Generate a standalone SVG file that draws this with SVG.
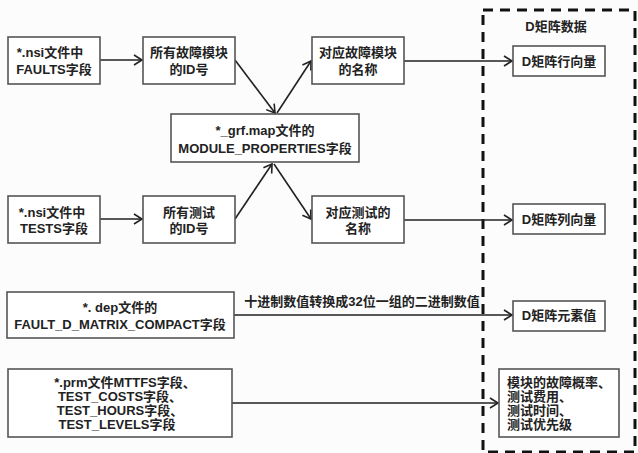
<svg xmlns="http://www.w3.org/2000/svg" width="638" height="453" viewBox="0 0 638 453">
<defs>
<marker id="ah" markerWidth="12" markerHeight="12" refX="10" refY="6" orient="auto" markerUnits="userSpaceOnUse">
<path d="M2,1 L10,6 L2,11" fill="none" stroke="#222" stroke-width="1.6"/>
</marker>
</defs>
<style>
.box{fill:#fff;stroke:#555;stroke-width:1.6}
.t{font-family:"Liberation Sans","Noto Sans CJK SC",sans-serif;font-size:13px;font-weight:bold;fill:#222;text-anchor:middle}
.tl{text-anchor:start}
.c{fill:none;stroke:#222;stroke-width:1.6;marker-end:url(#ah)}
.dash{fill:none;stroke:#111;stroke-width:3;stroke-dasharray:10 7}
</style>
<rect width="638" height="453" fill="#fcfcfc"/>
<rect class="dash" x="483" y="10" width="152" height="442"/>
<text class="t" x="556" y="31">D矩阵数据</text>
<g id="connectors">
<line class="c" x1="100" y1="60" x2="142" y2="60"/>
<line class="c" x1="235" y1="60" x2="275" y2="113"/>
<line class="c" x1="277" y1="113" x2="311" y2="61"/>
<line class="c" x1="404" y1="61" x2="512" y2="61"/>
<line class="c" x1="100" y1="219" x2="142" y2="219"/>
<line class="c" x1="235" y1="219" x2="272" y2="164"/>
<line class="c" x1="274" y1="164" x2="311" y2="219"/>
<line class="c" x1="404" y1="220" x2="512" y2="220"/>
<line class="c" x1="234" y1="315" x2="512" y2="315"/>
<text class="t" x="362" y="306">十进制数值转换成32位一组的二进制数值</text>
<line class="c" x1="232" y1="403" x2="498" y2="403"/>
</g>
<g id="n1"><rect class="box" x="8" y="37" width="92" height="47"/><text class="t" x="50" y="57">*.nsi文件中</text><text class="t" x="54" y="74">FAULTS字段</text></g>
<g id="n2"><rect class="box" x="143" y="37" width="92" height="47"/><text class="t" x="189" y="57">所有故障模块</text><text class="t" x="189" y="74">的ID号</text></g>
<g id="n3"><rect class="box" x="312" y="37" width="92" height="47"/><text class="t" x="358" y="57">对应故障模块</text><text class="t" x="358" y="74">的名称</text></g>
<g id="n4"><rect class="box" x="513" y="46" width="92" height="30"/><text class="t" x="559" y="66">D矩阵行向量</text></g>
<g id="map"><rect class="box" x="171" y="114" width="188" height="48"/><text class="t" x="265" y="135">*_grf.map文件的</text><text class="t" x="265" y="153">MODULE_PROPERTIES字段</text></g>
<g id="n5"><rect class="box" x="8" y="196" width="92" height="47"/><text class="t" x="52" y="217">*.nsi文件中</text><text class="t" x="54" y="233">TESTS字段</text></g>
<g id="n6"><rect class="box" x="143" y="196" width="92" height="47"/><text class="t" x="189" y="217">所有测试</text><text class="t" x="189" y="233">的ID号</text></g>
<g id="n7"><rect class="box" x="312" y="196" width="92" height="47"/><text class="t" x="358" y="217">对应测试的</text><text class="t" x="358" y="233">名称</text></g>
<g id="n8"><rect class="box" x="513" y="204" width="92" height="30"/><text class="t" x="559" y="224">D矩阵列向量</text></g>
<g id="n9"><rect class="box" x="7" y="292" width="227" height="46"/><text class="t" x="120" y="312">*. dep文件的</text><text class="t" x="120" y="329">FAULT_D_MATRIX_COMPACT字段</text></g>
<g id="n10"><rect class="box" x="513" y="301" width="92" height="30"/><text class="t" x="559" y="320">D矩阵元素值</text></g>
<g id="n11"><rect class="box" x="8" y="369" width="224" height="68"/><text class="t" x="125" y="387">*.prm文件MTTFS字段、</text><text class="t" x="120" y="401">TEST_COSTS字段、</text><text class="t" x="120" y="415">TEST_HOURS字段、</text><text class="t" x="117" y="429">TEST_LEVELS字段</text></g>
<g id="n12"><rect class="box" x="499" y="369" width="120" height="68"/><text class="t tl" x="507" y="387">模块的故障概率、</text><text class="t tl" x="507" y="401">测试费用、</text><text class="t tl" x="507" y="415">测试时间、</text><text class="t tl" x="507" y="429">测试优先级</text></g>
</svg>
